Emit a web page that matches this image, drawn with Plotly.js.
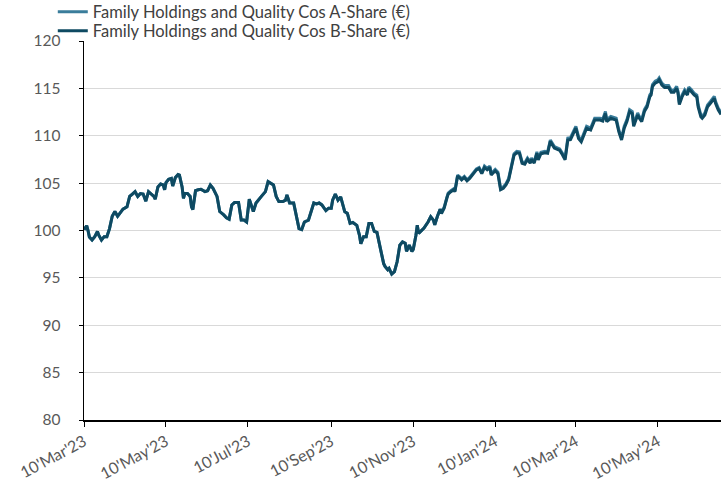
<!DOCTYPE html>
<html>
<head>
<meta charset="utf-8">
<script src="https://cdn.plot.ly/plotly-3.0.1.min.js"></script>
<style>html,body{margin:0;padding:0;background:#fff;}#chart{width:728px;height:482px;}</style>
</head>
<body>
<div id="chart"></div>
<script>
const seriesNames = ["Family Holdings and Quality Cos A-Share (€)", "Family Holdings and Quality Cos B-Share (€)"];

const dates = [
"2023-03-10","2023-03-12","2023-03-13","2023-03-14","2023-03-16","2023-03-18","2023-03-20","2023-03-21","2023-03-23","2023-03-25","2023-03-27","2023-03-29","2023-03-31",
"2023-04-02","2023-04-04","2023-04-06","2023-04-08","2023-04-11","2023-04-13","2023-04-15","2023-04-17","2023-04-19","2023-04-21","2023-04-23","2023-04-25","2023-04-27","2023-04-29",
"2023-05-01","2023-05-02","2023-05-04","2023-05-06","2023-05-08","2023-05-09","2023-05-10","2023-05-12","2023-05-14","2023-05-15","2023-05-17","2023-05-19","2023-05-20","2023-05-22","2023-05-23","2023-05-24","2023-05-26","2023-05-28","2023-05-29","2023-05-30",
"2023-06-01","2023-06-03","2023-06-05","2023-06-08","2023-06-10","2023-06-12","2023-06-14","2023-06-17","2023-06-19","2023-06-22","2023-06-24","2023-06-26","2023-06-28","2023-06-30",
"2023-07-03","2023-07-05","2023-07-07","2023-07-09","2023-07-11","2023-07-14","2023-07-16","2023-07-20","2023-07-23","2023-07-25","2023-07-27","2023-07-29","2023-07-31",
"2023-08-02","2023-08-05","2023-08-07","2023-08-08","2023-08-10","2023-08-13","2023-08-15","2023-08-17","2023-08-19","2023-08-21","2023-08-24","2023-08-26","2023-08-28","2023-08-30",
"2023-09-01","2023-09-03","2023-09-06","2023-09-08","2023-09-10","2023-09-11","2023-09-13","2023-09-15","2023-09-17","2023-09-20","2023-09-22","2023-09-24","2023-09-26","2023-09-29",
"2023-10-01","2023-10-02","2023-10-04","2023-10-06","2023-10-08","2023-10-10","2023-10-12","2023-10-14","2023-10-16","2023-10-17","2023-10-19","2023-10-20","2023-10-22","2023-10-23","2023-10-25","2023-10-27","2023-10-29","2023-10-31",
"2023-11-02","2023-11-04","2023-11-05","2023-11-07","2023-11-09","2023-11-10","2023-11-12","2023-11-13","2023-11-14","2023-11-16","2023-11-18","2023-11-21","2023-11-23","2023-11-25","2023-11-26","2023-11-28","2023-11-30",
"2023-12-01","2023-12-03","2023-12-05","2023-12-06","2023-12-08","2023-12-10","2023-12-11","2023-12-13","2023-12-15","2023-12-16","2023-12-18","2023-12-20","2023-12-22","2023-12-24","2023-12-27","2023-12-29","2023-12-31",
"2024-01-02","2024-01-04","2024-01-06","2024-01-07","2024-01-10","2024-01-12","2024-01-14","2024-01-16","2024-01-18","2024-01-20","2024-01-22","2024-01-24","2024-01-26","2024-01-28","2024-01-30",
"2024-02-01","2024-02-03","2024-02-05","2024-02-06","2024-02-08","2024-02-10","2024-02-11","2024-02-13","2024-02-16","2024-02-18","2024-02-20","2024-02-23","2024-02-25","2024-02-27","2024-02-29",
"2024-03-02","2024-03-04","2024-03-06","2024-03-10","2024-03-12","2024-03-14","2024-03-18","2024-03-21","2024-03-24","2024-03-28","2024-03-30",
"2024-04-01","2024-04-02","2024-04-05","2024-04-09","2024-04-11","2024-04-13","2024-04-15","2024-04-17","2024-04-19","2024-04-21","2024-04-22","2024-04-25","2024-04-26","2024-04-28","2024-04-30",
"2024-05-02","2024-05-04","2024-05-05","2024-05-06","2024-05-08","2024-05-10","2024-05-11","2024-05-13","2024-05-15","2024-05-18","2024-05-20","2024-05-22","2024-05-24","2024-05-25","2024-05-26","2024-05-28","2024-05-30",
"2024-06-01","2024-06-02","2024-06-04","2024-06-06","2024-06-08","2024-06-09","2024-06-11","2024-06-12","2024-06-14","2024-06-16","2024-06-18","2024-06-21","2024-06-22","2024-06-24","2024-06-26"
];

const shareB = [
100.1,100.5,100.0,99.3,99.0,99.35,99.9,99.5,99.0,99.35,99.35,100.2,101.5,
102.0,101.5,101.9,102.25,102.5,103.6,103.85,104.1,103.6,103.9,103.85,103.1,104.1,103.85,
103.6,103.3,104.6,104.9,104.8,104.3,105.05,105.4,105.5,104.7,105.6,105.9,105.85,104.6,103.4,103.9,103.9,103.6,102.5,102.2,
104.2,104.3,104.35,104.1,104.2,104.8,104.45,103.6,102.0,101.65,101.35,101.2,102.7,102.95,
102.95,101.1,101.1,100.9,103.3,102.0,102.9,103.6,104.1,105.15,105.0,104.8,103.6,
103.05,103.05,103.2,103.75,102.9,102.9,101.45,100.2,100.1,100.9,101.1,102.15,102.9,102.8,
102.9,102.7,102.1,102.35,102.35,103.2,103.85,103.2,103.55,102.0,101.8,100.75,100.85,100.55,
99.5,98.6,99.35,99.35,100.75,100.75,99.9,99.8,98.65,97.8,96.5,96.2,95.85,96.0,95.4,95.65,96.7,98.45,
98.8,98.65,97.8,98.45,97.8,98.0,99.5,100.55,99.7,100.0,100.25,100.9,101.45,101.1,100.6,101.5,102.25,
101.8,102.35,103.4,103.85,104.1,104.3,104.1,105.75,105.5,105.35,105.6,105.25,105.5,105.85,106.4,106.55,106.0,
106.65,106.4,106.65,105.85,106.3,106.0,104.3,104.45,104.8,105.35,106.65,107.95,108.2,108.15,107.1,
107.0,107.5,107.1,107.5,107.1,108.15,107.45,108.1,108.2,108.15,109.4,108.7,108.6,108.45,108.0,
107.45,109.55,109.6,110.8,109.7,109.35,110.8,110.6,111.65,111.65,111.55,
112.35,111.5,111.85,111.65,110.4,109.55,110.8,111.5,112.55,112.35,111.0,112.2,111.9,111.5,112.55,
113.05,114.1,114.3,115.2,115.55,115.7,115.9,115.35,115.1,115.1,114.6,114.6,115.0,114.5,113.3,114.1,114.65,
114.3,114.95,114.65,114.3,114.1,113.05,112.0,111.85,112.2,113.05,113.4,113.95,113.4,112.7,112.25
];

const shareA = [
100.1,100.5,100.0,99.3,99.0,99.35,99.9,99.5,99.0,99.35,99.35,100.2,101.5,
102.0,101.5,101.9,102.25,102.5,103.6,103.85,104.1,103.6,103.9,103.85,103.1,104.1,103.85,
103.6,103.3,104.6,104.9,104.8,104.3,105.05,105.4,105.5,104.7,105.6,105.9,105.85,104.6,103.4,103.9,103.9,103.6,102.5,102.2,
104.2,104.3,104.35,104.1,104.2,104.8,104.45,103.6,102.0,101.65,101.35,101.2,102.7,102.95,
102.95,101.1,101.1,100.9,103.3,102.0,102.9,103.6,104.1,105.15,105.0,104.8,103.6,
103.05,103.05,103.2,103.75,102.9,102.9,101.45,100.2,100.1,100.9,101.1,102.15,102.9,102.8,
102.9,102.7,102.1,102.35,102.35,103.2,103.85,103.2,103.55,102.0,101.8,100.75,100.85,100.55,
99.5,98.6,99.35,99.35,100.75,100.75,99.9,99.8,98.65,97.8,96.5,96.2,95.85,96.0,95.4,95.65,96.7,98.45,
98.8,98.65,97.8,98.45,97.8,98.0,99.5,100.55,99.7,100.0,100.25,100.9,101.45,101.1,100.6,101.5,102.25,
101.9,102.45,103.5,103.95,104.2,104.4,104.2,105.85,105.6,105.45,105.7,105.35,105.6,105.95,106.5,106.65,106.1,
106.8,106.55,106.8,106.0,106.45,106.15,104.45,104.6,104.95,105.5,106.8,108.1,108.35,108.3,107.25,
107.15,107.65,107.25,107.65,107.25,108.3,107.6,108.25,108.35,108.3,109.55,108.85,108.75,108.6,108.15,
107.65,109.75,109.8,111.0,109.9,109.55,111.0,110.8,111.85,111.85,111.75,
112.55,111.7,112.05,111.85,110.6,109.75,111.0,111.7,112.75,112.55,111.2,112.4,112.1,111.7,112.75,
113.25,114.3,114.5,115.4,115.75,115.9,116.1,115.55,115.3,115.3,114.8,114.8,115.2,114.7,113.5,114.3,114.85,
114.5,115.15,114.85,114.5,114.3,113.25,112.2,112.05,112.4,113.25,113.6,114.15,113.6,112.9,112.45
];

const xTickVals = ["2023-03-10","2023-05-10","2023-07-10","2023-09-10","2023-11-10","2024-01-10","2024-03-10","2024-05-10"];
const xTickText = ["10'Mar'23","10'May'23","10'Jul'23","10'Sep'23","10'Nov'23","10'Jan'24","10'Mar'24","10'May'24"];
const yTickVals = [80,85,90,95,100,105,110,115,120];

const traces = [
  {x: dates, y: shareA, name: seriesNames[0], type: 'scatter', mode: 'lines',
   line: {color: '#3A7D9B', width: 3}, legend: 'legend'},
  {x: dates, y: shareB, name: seriesNames[1], type: 'scatter', mode: 'lines',
   line: {color: '#0E4A62', width: 3}, legend: 'legend2'}
];

const legendCommon = {xanchor: 'left', yanchor: 'middle', orientation: 'v',
  bgcolor: 'rgba(0,0,0,0)', font: {size: 16.5, color: '#404040'},
  itemwidth: 30, borderwidth: 0};

const layout = {
  width: 728, height: 482,
  margin: {l: 84, r: 7, t: 41, b: 62, autoexpand: false},
  paper_bgcolor: '#ffffff', plot_bgcolor: '#ffffff',
  font: {family: 'Lato, "Open Sans", sans-serif', color: '#595959'},
  showlegend: true,
  legend: Object.assign({}, legendCommon, {x: -0.049, y: 1.0765}),
  legend2: Object.assign({}, legendCommon, {x: -0.049, y: 1.0264}),
  xaxis: {type: 'date', range: ['2023-03-10', '2024-06-26'],
          tickvals: xTickVals, ticktext: xTickText, tickangle: -28,
          ticks: 'outside', ticklen: 5, tickcolor: '#000', tickwidth: 1,
          showline: true, linecolor: '#000', linewidth: 1.5,
          showgrid: false, zeroline: false, automargin: false,
          tickfont: {size: 16, color: '#595959'}},
  yaxis: {range: [80, 120], tickvals: yTickVals,
          ticks: 'outside', ticklen: 4, tickcolor: '#000', tickwidth: 1,
          ticklabelstandoff: 15, automargin: false,
          showline: true, linecolor: '#000', linewidth: 1.5,
          showgrid: true, gridcolor: '#D9D9D9', gridwidth: 1, zeroline: false,
          tickfont: {size: 15.5, color: '#595959'}}
};

Plotly.newPlot('chart', traces, layout, {staticPlot: true, displayModeBar: false});
</script>
</body>
</html>
